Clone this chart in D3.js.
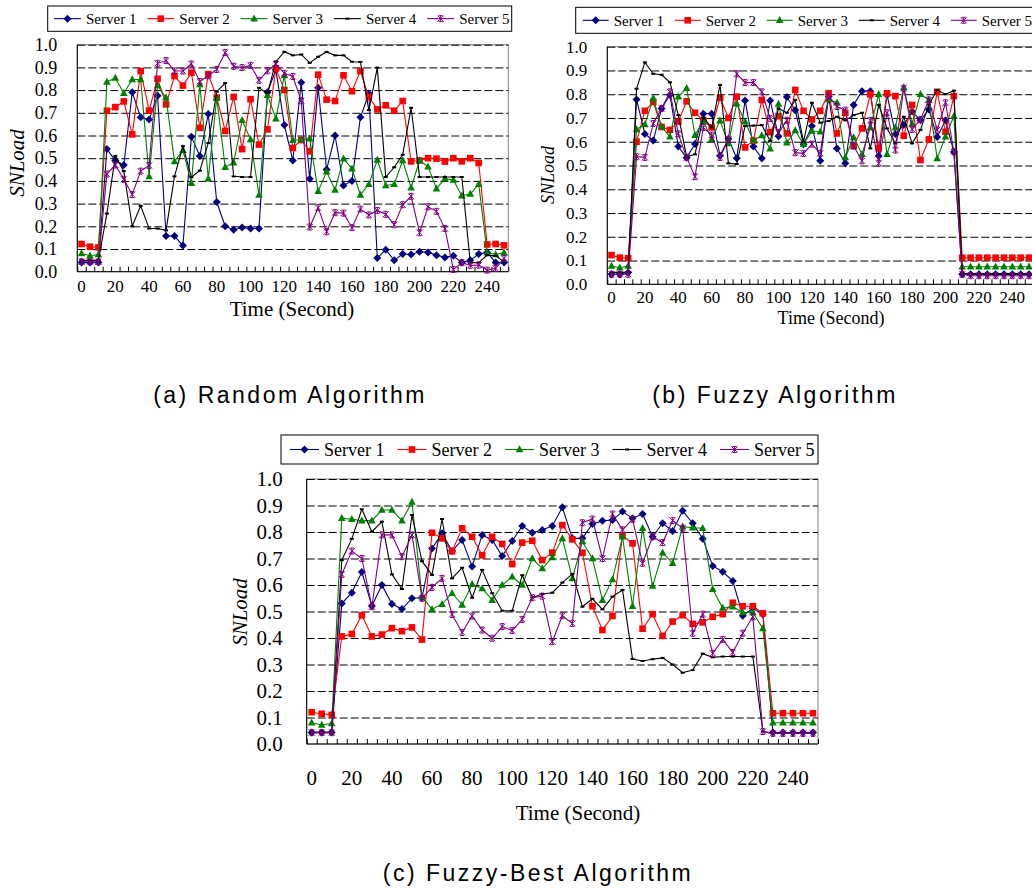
<!DOCTYPE html>
<html>
<head>
<meta charset="utf-8">
<script src="https://cdn.jsdelivr.net/npm/d3@7"></script>
<style>
body { margin: 0; background: #fff; }
svg { display: block; }
</style>
</head>
<body>
<div id="chart"></div>
<script>
// time axis (seconds), one category every 5 s
const seconds = [0,5,10,15,20,25,30,35,40,45,50,55,60,65,70,75,80,85,90,95,100,105,110,115,120,125,130,135,140,145,150,155,160,165,170,175,180,185,190,195,200,205,210,215,220,225,230,235,240,245,250];
const timeLabels = [0,20,40,60,80,100,120,140,160,180,200,220,240];
const loadTicks = [0,0.1,0.2,0.3,0.4,0.5,0.6,0.7,0.8,0.9,1.0];
const serverNames = ["Server 1","Server 2","Server 3","Server 4","Server 5"];

// (a) Random Algorithm
const randomS1 = [0.04,0.04,0.04,0.54,0.49,0.47,0.79,0.68,0.67,0.775, 0.157,0.157,0.115,0.595,0.51,0.695,0.307,0.20,0.185,0.195, 0.19,0.19,0.79,0.89,0.646,0.49,0.834,0.41,0.81,0.45, 0.60,0.38,0.40,0.68,0.785,0.06,0.097,0.05,0.078,0.076, 0.088,0.085,0.073,0.063,0.07,0.04,0.05,0.078,0.085,0.04,0.04];
const randomS2 = [0.122,0.11,0.107,0.709,0.725,0.75,0.605,0.884,0.71,0.85, 0.737,0.862,0.82,0.877,0.634,0.87,0.767,0.62,0.77,0.54, 0.76,0.56,0.627,0.896,0.80,0.545,0.58,0.53,0.868,0.758, 0.752,0.865,0.795,0.884,0.77,0.715,0.733,0.709,0.752,0.486, 0.49,0.50,0.498,0.485,0.50,0.486,0.50,0.479,0.12,0.122,0.116];
const randomS3 = [0.08,0.07,0.076,0.836,0.853,0.786,0.847,0.847,0.42,0.82, 0.767,0.486,0.535,0.39,0.825,0.41,0.767,0.46,0.48,0.667, 0.583,0.338,0.778,0.674,0.865,0.579,0.581,0.586,0.355,0.44, 0.36,0.498,0.454,0.338,0.386,0.492,0.38,0.385,0.49,0.37, 0.49,0.463,0.366,0.41,0.404,0.335,0.342,0.386,0.084,0.076,0.084];
const randomS4 = [0.05,0.05,0.05,0.256,0.51,0.443,0.20,0.29,0.19,0.19, 0.182,0.42,0.553,0.417,0.445,0.567,0.793,0.831,0.42,0.417, 0.417,0.81,0.786,0.925,0.969,0.953,0.957,0.92,0.947,0.968, 0.953,0.953,0.925,0.924,0.712,0.899,0.417,0.46,0.515,0.722, 0.417,0.417,0.417,0.417,0.417,0.417,0.04,0.04,0.073,0.07,0.044];
const randomS5 = [0.044,0.044,0.044,0.43,0.47,0.407,0.34,0.443,0.468,0.918, 0.93,0.884,0.884,0.915,0.838,0.863,0.891,0.965,0.905,0.899, 0.909,0.843,0.885,0.915,0.874,0.86,0.753,0.197,0.282,0.176, 0.26,0.258,0.194,0.276,0.25,0.27,0.253,0.207,0.295,0.332, 0.172,0.286,0.266,0.19,0.01,0.04,0.028,0.029,0.007,0.015,0.059];

// (b) Fuzzy Algorithm
const fuzzyS1 = [0.042,0.042,0.05,0.778,0.633,0.605,0.74,0.797,0.58,0.533, 0.59,0.718,0.718,0.541,0.613,0.53,0.774,0.58,0.53,0.774, 0.623,0.788,0.733,0.589,0.666,0.52,0.79,0.572,0.509,0.755, 0.813,0.813,0.54,0.797,0.633,0.67,0.727,0.69,0.736,0.62, 0.69,0.557,0.042,0.042,0.042,0.042,0.042,0.042,0.042,0.042,0.042];
const fuzzyS2 = [0.123,0.112,0.11,0.6,0.73,0.767,0.662,0.65,0.685,0.77, 0.722,0.69,0.66,0.785,0.70,0.79,0.576,0.605,0.776,0.64, 0.708,0.635,0.818,0.73,0.694,0.73,0.804,0.635,0.722,0.582, 0.656,0.80,0.572,0.804,0.792,0.625,0.755,0.523,0.61,0.81, 0.642,0.792,0.112,0.112,0.112,0.112,0.112,0.112,0.112,0.112,0.112];
const fuzzyS3 = [0.077,0.07,0.077,0.652,0.673,0.783,0.663,0.621,0.79,0.825, 0.628,0.687,0.611,0.689,0.593,0.76,0.684,0.605,0.626,0.571, 0.759,0.596,0.647,0.59,0.645,0.642,0.778,0.764,0.534,0.618, 0.548,0.66,0.80,0.548,0.66,0.829,0.675,0.80,0.776,0.53, 0.621,0.708,0.074,0.074,0.074,0.074,0.074,0.074,0.074,0.074,0.074];
const fuzzyS4 = [0.05,0.05,0.05,0.823,0.934,0.886,0.882,0.85,0.712,0.537, 0.547,0.703,0.66,0.839,0.509,0.506,0.666,0.668,0.67,0.603, 0.74,0.722,0.776,0.6,0.764,0.68,0.687,0.705,0.69,0.712, 0.722,0.572,0.755,0.656,0.593,0.705,0.593,0.65,0.757,0.818, 0.80,0.815,0.045,0.045,0.045,0.045,0.045,0.045,0.045,0.045,0.045];
const fuzzyS5 = [0.042,0.042,0.042,0.537,0.534,0.677,0.74,0.81,0.633,0.534, 0.453,0.66,0.628,0.534,0.61,0.886,0.849,0.849,0.81,0.698, 0.638,0.69,0.554,0.551,0.59,0.551,0.792,0.748,0.733,0.582, 0.52,0.69,0.509,0.722,0.565,0.825,0.652,0.694,0.776,0.65, 0.764,0.558,0.042,0.036,0.036,0.036,0.036,0.036,0.036,0.036,0.036];

// (c) Fuzzy-Best Algorithm
const bestS1 = [0.043,0.043,0.043,0.53,0.571,0.649,0.521,0.6,0.528,0.509, 0.55,0.552,0.738,0.795,0.728,0.77,0.67,0.789,0.77,0.709, 0.766,0.823,0.797,0.808,0.823,0.893,0.776,0.776,0.83,0.842, 0.845,0.877,0.852,0.868,0.782,0.833,0.804,0.88,0.833,0.775, 0.672,0.65,0.615,0.484,0.512,0.49,0.043,0.043,0.043,0.043,0.043];
const bestS2 = [0.12,0.114,0.11,0.406,0.415,0.486,0.406,0.413,0.437,0.426, 0.44,0.394,0.797,0.776,0.727,0.814,0.782,0.712,0.782,0.755, 0.679,0.76,0.767,0.694,0.722,0.826,0.772,0.722,0.52,0.43, 0.483,0.787,0.757,0.435,0.49,0.408,0.462,0.486,0.453,0.459, 0.48,0.49,0.533,0.52,0.52,0.493,0.116,0.116,0.116,0.116,0.116];
const bestS3 = [0.08,0.072,0.078,0.852,0.848,0.843,0.843,0.883,0.883,0.843, 0.913,0.556,0.508,0.528,0.569,0.525,0.603,0.587,0.543,0.6, 0.631,0.6,0.7,0.662,0.704,0.776,0.625,0.764,0.70,0.543, 0.621,0.782,0.52,0.814,0.596,0.722,0.682,0.82,0.816,0.814, 0.584,0.513,0.518,0.496,0.496,0.436,0.08,0.08,0.08,0.08,0.08];
const bestS4 = [0.045,0.045,0.045,0.694,0.774,0.886,0.801,0.839,0.64,0.585, 0.864,0.69,0.638,0.849,0.625,0.665,0.552,0.657,0.569,0.503, 0.503,0.637,0.553,0.566,0.571,0.609,0.642,0.518,0.548,0.508, 0.556,0.581,0.321,0.313,0.32,0.325,0.30,0.269,0.279,0.341, 0.327,0.33,0.33,0.33,0.33,0.047,0.04,0.04,0.04,0.04,0.04];
const bestS5 = [0.043,0.043,0.043,0.64,0.728,0.70,0.518,0.789,0.789,0.707, 0.789,0.55,0.591,0.625,0.489,0.421,0.483,0.43,0.399,0.443, 0.428,0.47,0.552,0.558,0.386,0.484,0.455,0.835,0.849,0.70, 0.868,0.808,0.848,0.682,0.782,0.76,0.843,0.814,0.418,0.49, 0.342,0.395,0.345,0.418,0.48,0.047,0.04,0.04,0.04,0.04,0.04];

const colors = ["#000080", "#ff0000", "#008000", "#000000", "#800080"];
const serif = "'Liberation Serif', 'Times New Roman', serif";
const sans = "'Liberation Sans', Arial, sans-serif";

const svg = d3.select("#chart")
    .append("svg")
    .attr("width", 1032)
    .attr("height", 888);

svg.append("rect").attr("width", 1032).attr("height", 888).attr("fill", "#fff");

// excel style markers, one per series
function drawMarker(g, k, x, y) {
    if (k === 0) {
        g.append("path").attr("d", `M${x},${y - 4}L${x + 4},${y}L${x},${y + 4}L${x - 4},${y}Z`)
            .attr("fill", colors[0]);
    } else if (k === 1) {
        g.append("rect").attr("x", x - 3.3).attr("y", y - 3.3).attr("width", 6.6).attr("height", 6.6)
            .attr("fill", colors[1]);
    } else if (k === 2) {
        g.append("path").attr("d", `M${x},${y - 4.2}L${x + 3.8},${y + 2.8}L${x - 3.8},${y + 2.8}Z`)
            .attr("fill", colors[2]);
    } else if (k === 3) {
        g.append("rect").attr("x", x - 2).attr("y", y - 1).attr("width", 4).attr("height", 2)
            .attr("fill", colors[3]);
    } else {
        g.append("path")
            .attr("d", `M${x - 3},${y - 3}L${x + 3},${y + 3}M${x - 3},${y + 3}L${x + 3},${y - 3}M${x},${y - 3}L${x},${y + 3}M${x - 2},${y - 3}L${x + 2},${y - 3}M${x - 2},${y + 3}L${x + 2},${y + 3}`)
            .attr("stroke", colors[4]).attr("stroke-width", 1).attr("fill", "none");
    }
}

function drawPanel(p) {
    const x = d3.scaleBand().domain(seconds).range([p.left, p.right]);
    const y = d3.scaleLinear().domain([0, 1]).range([p.bottom, p.top]);
    const cx = d => x(d) + x.bandwidth() / 2;

    // plot frame
    svg.append("rect")
        .attr("x", p.left).attr("y", p.top)
        .attr("width", p.right - p.left).attr("height", p.bottom - p.top)
        .attr("fill", "#fff").attr("stroke", "#808080").attr("stroke-width", 1);

    // dashed grid
    svg.append("g")
        .attr("transform", `translate(${p.left},0)`)
        .call(d3.axisLeft(y).tickValues(loadTicks.slice(1)).tickSize(-(p.right - p.left)).tickFormat(""))
        .call(g => g.select(".domain").remove())
        .call(g => g.selectAll("line").attr("stroke", "#000").attr("stroke-dasharray", "8,3"));

    // y labels
    svg.append("g")
        .attr("transform", `translate(${p.left},0)`)
        .call(d3.axisLeft(y).tickValues(loadTicks).tickSize(0).tickPadding(p.yPad).tickFormat(d3.format(".1f")))
        .call(g => g.select(".domain").remove())
        .call(g => g.selectAll("text").attr("font-family", serif).attr("font-size", p.tickFont).attr("fill", "#000"));

    // category boundary ticks
    const edges = d3.scaleLinear().domain([0, seconds.length]).range([p.left, p.right]);
    svg.append("g")
        .attr("transform", `translate(0,${p.bottom})`)
        .call(d3.axisBottom(edges).tickValues(d3.range(seconds.length + 1)).tickSize(-5).tickFormat(""))
        .call(g => g.select(".domain").remove())
        .call(g => g.selectAll("line").attr("stroke", "#000"));

    // time labels
    svg.append("g")
        .attr("transform", `translate(0,${p.bottom})`)
        .call(d3.axisBottom(x).tickValues(timeLabels).tickSize(0).tickPadding(p.xPad))
        .call(g => g.select(".domain").remove())
        .call(g => g.selectAll("text").attr("font-family", serif).attr("font-size", p.xFont || p.tickFont).attr("fill", "#000"));

    // axes lines
    svg.append("line").attr("x1", p.left).attr("x2", p.left).attr("y1", p.top).attr("y2", p.bottom).attr("stroke", "#000");
    svg.append("line").attr("x1", p.left).attr("x2", p.right).attr("y1", p.bottom).attr("y2", p.bottom).attr("stroke", "#000");

    // series
    const line = d3.line().x((d, i) => cx(seconds[i])).y(d => y(d));
    p.series.forEach((vals, k) => {
        const g = svg.append("g");
        g.append("path").datum(vals)
            .attr("fill", "none").attr("stroke", colors[k]).attr("stroke-width", 1.1)
            .attr("d", line);
        vals.forEach((v, i) => drawMarker(g, k, cx(seconds[i]), y(v)));
    });

    // axis titles
    svg.append("text")
        .attr("x", p.xTitle[0]).attr("y", p.xTitle[1])
        .attr("text-anchor", "middle")
        .attr("font-family", serif).attr("font-size", p.titleFont)
        .text("Time (Second)");
    svg.append("text")
        .attr("transform", `translate(${p.yTitle[0]},${p.yTitle[1]}) rotate(-90)`)
        .attr("text-anchor", "middle")
        .attr("font-family", serif).attr("font-style", "italic").attr("font-size", p.titleFont)
        .text("SNLoad");

    // legend
    const L = p.legend;
    svg.append("rect")
        .attr("x", L.x).attr("y", L.y).attr("width", L.w).attr("height", L.h)
        .attr("fill", "#fff").attr("stroke", "#000").attr("stroke-width", 1);
    const ly = L.y + L.h / 2;
    serverNames.forEach((name, k) => {
        const g = svg.append("g");
        const x0 = L.start + k * L.step;
        g.append("line").attr("x1", x0).attr("x2", x0 + L.len).attr("y1", ly).attr("y2", ly)
            .attr("stroke", colors[k]).attr("stroke-width", 1.1);
        drawMarker(g, k, x0 + L.len / 2, ly);
        g.append("text")
            .attr("x", x0 + L.len + 5).attr("y", ly)
            .attr("dy", "0.35em")
            .attr("font-family", serif).attr("font-size", L.font)
            .text(name);
    });

    // caption
    svg.append("text")
        .attr("x", p.caption[0]).attr("y", p.caption[1])
        .attr("text-anchor", "middle")
        .attr("font-family", sans).attr("font-size", 23).attr("letter-spacing", 2.5)
        .text(p.captionText);
}

drawPanel({
    left: 77.3, right: 508.3, top: 44.7, bottom: 271.7,
    series: [randomS1, randomS2, randomS3, randomS4, randomS5],
    tickFont: 18, xFont: 17, titleFont: 21, yPad: 20, xPad: 8,
    xTitle: [292, 316], yTitle: [24, 163],
    legend: { x: 47.7, y: 6, w: 464, h: 25.3, start: 54, step: 93.3, len: 27, font: 15 },
    caption: [290, 403], captionText: "(a) Random Algorithm"
});

drawPanel({
    left: 607.3, right: 1033.2, top: 46.7, bottom: 284.3,
    series: [fuzzyS1, fuzzyS2, fuzzyS3, fuzzyS4, fuzzyS5],
    tickFont: 17, titleFont: 18, yPad: 20, xPad: 7,
    xTitle: [831, 324], yTitle: [554, 175],
    legend: { x: 575.7, y: 7.3, w: 470, h: 26, start: 582.7, step: 92, len: 26, font: 15 },
    caption: [775, 403], captionText: "(b) Fuzzy Algorithm"
});

drawPanel({
    left: 306.7, right: 818, top: 479, bottom: 744,
    series: [bestS1, bestS2, bestS3, bestS4, bestS5],
    tickFont: 21, titleFont: 21, yPad: 24, xPad: 26,
    xTitle: [578, 820], yTitle: [247, 612],
    legend: { x: 281, y: 435, w: 537, h: 29, start: 290, step: 107.5, len: 29, font: 18 },
    caption: [538, 881], captionText: "(c) Fuzzy-Best Algorithm"
});
</script>
</body>
</html>
